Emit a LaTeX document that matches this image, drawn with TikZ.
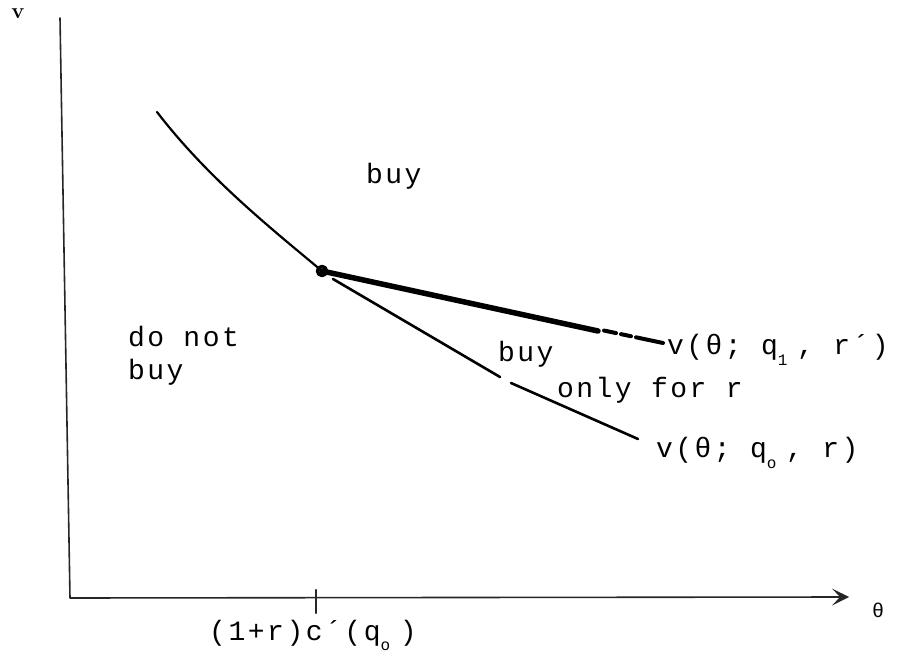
\documentclass[tikz,border=0pt]{standalone}
\usepackage{fontspec}
\newfontfamily\typew[LetterSpace=9]{Liberation Mono}
\usepackage{tikz}
\usetikzlibrary{arrows.meta,positioning,calc}

\newcommand{\lowsub}[1]{\makebox[0.69em][l]{\raisebox{-0.7ex}{\fontsize{16}{16}\selectfont #1}}}

\begin{document}
\begin{tikzpicture}[x=1pt,y=1pt, line cap=round, line join=round,
                    every node/.style={outer sep=0pt, inner sep=0pt}]

  \tikzset{
    axis/.style={line width=1.6pt, draw=black!85},
    graph/.style={line width=2.2pt, draw=black},
    thickgraph/.style={line width=5.5pt, draw=black},
    txt/.style={font=\fontsize{28}{33}\selectfont\typew, anchor=base west, align=left}
  }

  \path[use as bounding box] (0,0) rectangle (904,656);

  % axes
  \coordinate (top)    at (60,638);
  \coordinate (origin) at (70,58);
  \coordinate (xend)   at (849,59);
  \draw[axis, -{Stealth[length=17pt, width=17pt, inset=8pt]}] (top) -- (origin) -- (xend);
  \node[font=\fontsize{22}{22}\selectfont\bfseries] (vlab) at (18,642) {v};
  \node[font=\fontsize{20}{20}\selectfont\typew] (thlab) at (878,46) {θ};

  % tick and its label
  \coordinate (tick) at (316,58);
  \draw[axis, line width=2.2pt] ([yshift=8pt]tick) -- ([yshift=-15pt]tick);
  \node[txt, anchor=base] (ticklab) at (313,16) {(1+r)c´(q\lowsub{o})};

  % boundary curve and the kink
  \coordinate (c0) at (157,544);
  \coordinate (k)  at (322,385);
  \draw[graph] (c0) .. controls (207,479) and (268,430) .. (k);
  \draw[line width=3.5pt] (k) circle (4.5pt);

  % upper (thick) line, broken near its end
  \coordinate (a1) at (598,325);
  \draw[thickgraph] (k) -- (a1);
  \foreach \s/\e in {604/616,621/631,636/663}
    \draw[thickgraph, line width=4pt] ($(k)!{(\s-322)/(663-322)}!(663,313)$) -- ($(k)!{(\e-322)/(663-322)}!(663,313)$);

  % lower (thin) line, with a gap
  \coordinate (b0) at (333,377);
  \coordinate (b1) at (500,279);
  \coordinate (b2) at (511,273);
  \coordinate (b3) at (638,217);
  \draw[graph, line width=2.6pt] (b0) -- (b1);
  \draw[graph, line width=2.6pt] (b2) -- (b3);

  % region labels
  \node[txt] (buytop) at (366,472) {buy};
  \node[txt, anchor=north west] (donot) at (128,330) {do not\\buy};
  \node[txt] (buymid) at (498,294) {buy};
  \node[txt] (onlyr) at (557,258) {only for r};

  % curve labels
  \node[txt] (lab1) at (667,301) {v(θ; q\lowsub{1}, r´)};
  \node[txt] (lab0) at (656,198) {v(θ; q\lowsub{o}, r)};
\end{tikzpicture}
\end{document}
